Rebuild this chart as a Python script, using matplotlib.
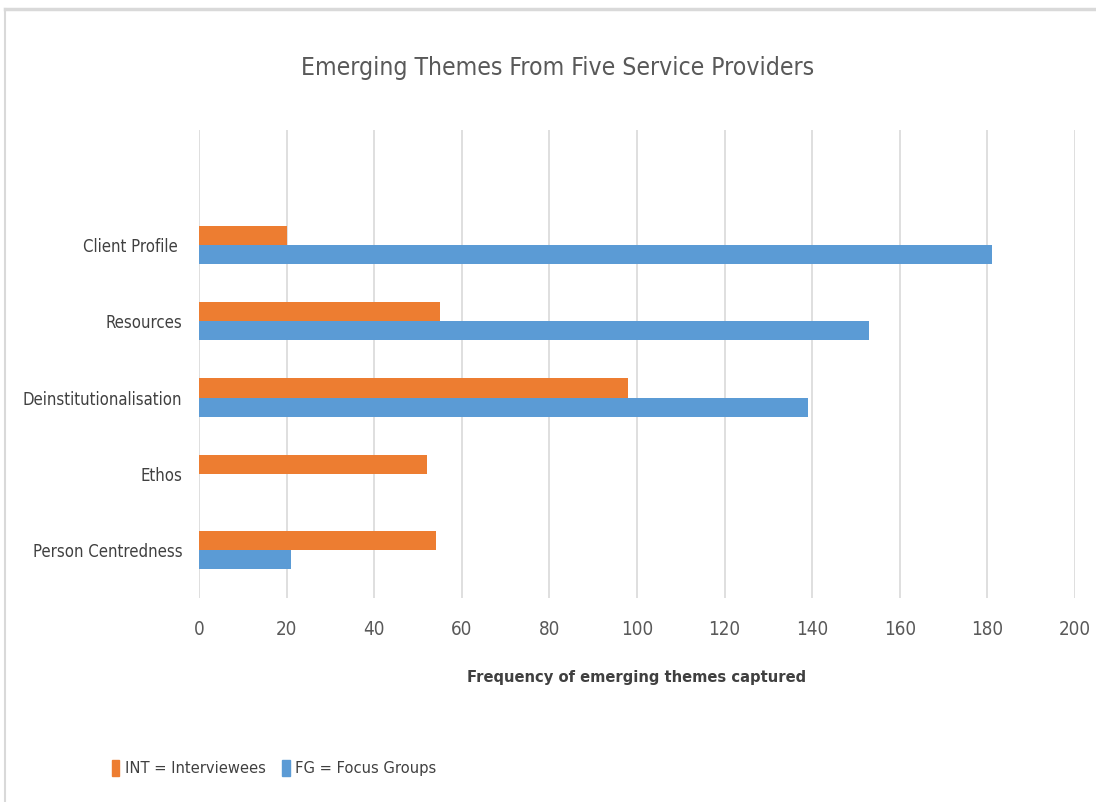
import matplotlib
matplotlib.use("Agg")
import matplotlib.pyplot as plt
from matplotlib.lines import Line2D
from matplotlib.patches import Patch
import numpy as np

categories = ["Client Profile ", "Resources", "Deinstitutionalisation", "Ethos", "Person Centredness"]
int_values = [20, 55, 98, 52, 54]
fg_values = [181, 153, 139, 0, 21]
xticks = [0, 20, 40, 60, 80, 100, 120, 140, 160, 180, 200]

plt.rcParams['font.family'] = ['DejaVu Sans']
plt.rcParams['font.stretch'] = 'condensed'

fig = plt.figure(figsize=(10.96, 8.02), dpi=100)
ax = fig.add_axes([199/1096, 1-598/802, (1075-199)/1096, (598-130)/802])

n = len(categories)
y = np.arange(n)[::-1]
h = 0.25
ax.barh(y + h/2, int_values, height=h, color="#ED7D31", label="INT = Interviewees", zorder=3)
ax.barh(y - h/2, fg_values, height=h, color="#5B9BD5", label="FG = Focus Groups", zorder=3)

ax.set_xlim(0, 200)
ax.set_ylim(-0.63, 5.51)
ax.set_xticks(xticks)
ax.set_xticklabels([str(t) for t in xticks], fontsize=13.5, color="#595959")
ax.set_yticks(y)
ax.set_yticklabels(categories, fontsize=12, color="#404040")
ax.tick_params(axis='both', length=0)
ax.tick_params(axis='x', pad=16)
ax.tick_params(axis='y', pad=12)
ax.grid(axis='x', color="#d9d9d9", linewidth=1.2, zorder=0)
for s in ax.spines.values():
    s.set_visible(False)

ax.set_xlabel("Frequency of emerging themes captured", fontsize=11.8, fontweight='bold',
              color="#404040", labelpad=22)

fig.text(558/1096, 1-68/802, "Emerging Themes From Five Service Providers", ha='center', va='center',
         fontsize=17.7, color="#595959")

handles = [Patch(color="#ED7D31"), Patch(color="#5B9BD5")]
fig.legend(handles, ["INT = Interviewees", "FG = Focus Groups"], loc='center left',
           bbox_to_anchor=(97/1096, 1-768/802), ncol=2, frameon=False, fontsize=11.8,
           handlelength=0.45, handleheight=1.1, handletextpad=0.35, columnspacing=1.0,
           labelcolor="#404040")

fig.add_artist(Line2D([5/1096, 1], [1-9/802, 1-9/802], color="#d9d9d9", linewidth=2.5))
fig.add_artist(Line2D([5/1096, 5/1096], [0, 1-9/802], color="#d9d9d9", linewidth=1.5))

fig.savefig("out.png", dpi=100)
